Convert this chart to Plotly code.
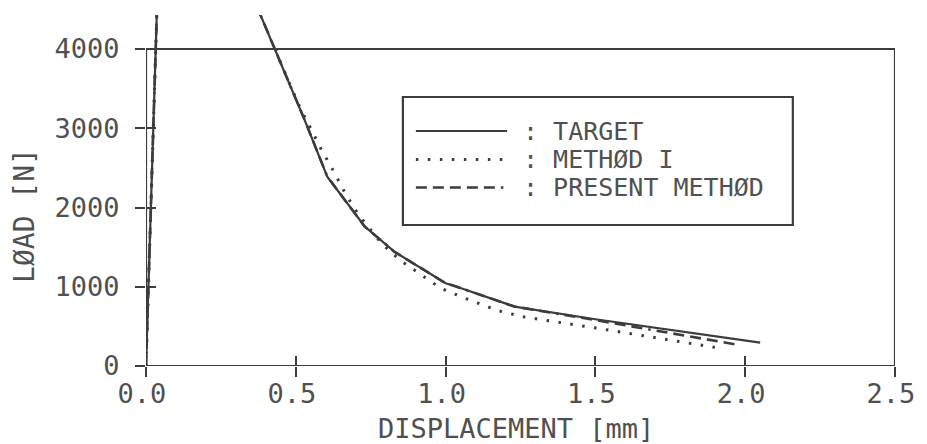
import plotly.graph_objects as go

# ---- data ----
target_x = [0.0, 0.039, None, 0.372, 0.43, 0.53, 0.605, 0.73, 0.83, 1.0, 1.03, 1.23, 1.5, 2.05]
target_y = [0, 4800, None, 4520, 4000, 3100, 2390, 1760, 1440, 1045, 1010, 750, 590, 295]

method1_x = [0.0, 0.039, None, 0.432, 0.441, 0.507, 0.583, 0.627, 0.665, 0.71, 0.786, 0.847,
             0.918, 0.984, 1.06, 1.175, 1.257, 1.504, 1.915]
method1_y = [0, 4800, None, 4000, 3903, 3315, 2747, 2452, 2178, 1905, 1548, 1338,
             1148, 980, 862, 698, 622, 478, 225]

present_x = [0.0, 0.039, None, 0.372, 0.43, 0.53, 0.605, 0.73, 0.83, 1.0, 1.03, 1.23, 1.46, 1.724, 1.98]
present_y = [0, 4800, None, 4520, 4000, 3100, 2390, 1760, 1440, 1045, 1010, 750, 605, 433, 265]

x_ticks = [0.0, 0.5, 1.0, 1.5, 2.0, 2.5]
x_ticklabels = ["0.0", "0.5", "1.0", "1.5", "2.0", "2.5"]
y_ticks = [0, 1000, 2000, 3000, 4000]
y_ticklabels = ["0", "1000", "2000", "3000", "4000"]

names = [": TARGET", ": METHØD I", ": PRESENT METHØD"]
x_title = "DISPLACEMENT [mm]"
y_title = "LØAD [N]"

INK = "#3c3c3c"
TXT = "#505050"
FONT = "DejaVu Sans Mono"

styles = [
    dict(color=INK, width=2.2),
    dict(color=INK, width=3, dash="2.5px,9.5px"),
    dict(color=INK, width=2.6, dash="11px,6px,11px,6px,11px,6px,11px,6px,11px,6px,2.5px,6px"),
]

fig = go.Figure()
for xs, ys, nm, st in zip([target_x, method1_x, present_x],
                          [target_y, method1_y, present_y], names, styles):
    fig.add_trace(go.Scatter(x=xs, y=ys, mode="lines", name=nm, line=st,
                             connectgaps=False, showlegend=False))

# frame of the 0..2.5 x 0..4000 box
fig.add_shape(type="rect", xref="x", yref="y", x0=x_ticks[0], x1=x_ticks[-1],
              y0=y_ticks[0], y1=y_ticks[-1], line=dict(color=INK, width=2.2))

# legend drawn by hand (box, sample lines, labels)
fig.add_shape(type="rect", xref="paper", yref="paper", x0=0.343, x1=0.8636,
              y0=0.4017, y1=0.7664, line=dict(color=INK, width=2.2))
row_y = [0.6695, 0.5883, 0.5085]
for ry, nm, st in zip(row_y, names, styles):
    fig.add_shape(type="line", xref="paper", yref="paper", x0=0.3603, x1=0.4821,
                  y0=ry, y1=ry, line=st)
    fig.add_annotation(text=nm, xref="paper", yref="paper", x=0.5007, y=ry,
                       xanchor="left", yanchor="middle", showarrow=False,
                       font=dict(family=FONT, size=25, color=TXT))

y_range = [0, 4429]
x_range = [0, 2.5]

common = dict(showgrid=False, zeroline=False, showline=False, ticklen=10,
              tickwidth=2, tickcolor=INK)

fig.update_layout(
    width=927, height=444,
    margin=dict(l=146, r=26, t=15, b=78),
    paper_bgcolor="white", plot_bgcolor="white",
    font=dict(family=FONT, color=TXT, size=24),
    xaxis=dict(range=x_range, tickvals=x_ticks, ticktext=x_ticklabels, ticks="outside",
               tickfont=dict(family=FONT, size=27, color=TXT), ticklabelstandoff=-6,
               ticklabelshift=-4, ticklabeloverflow="allow", **common),
    xaxis2=dict(range=x_range, tickvals=x_ticks, overlaying="x", anchor="y", side="bottom",
                ticks="inside", showticklabels=False, **common),
    yaxis=dict(range=y_range, tickvals=y_ticks, ticktext=y_ticklabels, ticks="outside",
               tickfont=dict(family=FONT, size=27, color=TXT), ticklabelstandoff=10,
               **common),
    yaxis2=dict(range=y_range, tickvals=y_ticks, overlaying="y", anchor="x", side="left",
                ticks="inside", showticklabels=False, **common),
    showlegend=False,
)

# dummy trace to activate the secondary tick axes
fig.add_trace(go.Scatter(x=[None], y=[None], xaxis="x2", yaxis="y2", showlegend=False,
                         hoverinfo="skip"))

fig.add_annotation(text=x_title, xref="paper", yref="paper", x=0.4934, y=-0.178,
                   xanchor="center", yanchor="middle", showarrow=False,
                   font=dict(family=FONT, size=27, color=TXT))
fig.add_annotation(text=y_title, xref="paper", yref="y", x=-0.163, y=1905,
                   xanchor="center", yanchor="middle", textangle=-90, showarrow=False,
                   font=dict(family=FONT, size=28, color=TXT))

fig.write_html("out.html", config={"displayModeBar": False},
               post_script="document.body.style.margin='0';document.body.style.overflow='hidden';")
